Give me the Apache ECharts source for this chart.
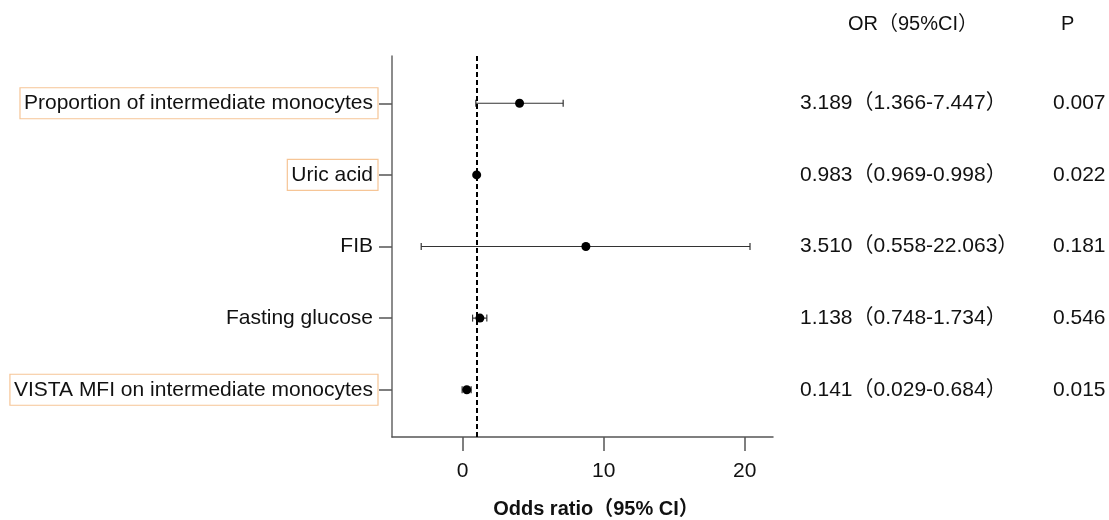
<!DOCTYPE html>
<html>
<head>
<meta charset="utf-8">
<style>html,body{margin:0;padding:0;background:#fff}#c{width:1109px;height:520px}</style>
<script src="https://cdn.jsdelivr.net/npm/echarts@6/dist/echarts.min.js"></script>
</head>
<body>
<div id="c"></div>
<script>
// ---- data ----
const variables = ['Proportion of intermediate monocytes', 'Uric acid', 'FIB', 'Fasting glucose', 'VISTA MFI on intermediate monocytes'];
const highlighted = [true, true, false, false, true];
const oddsRatio = [4.04, 1.0, 8.74, 1.23, 0.3];      // plotted point
const ciLow = [0.94, 0.97, -2.93, 0.71, -0.03];
const ciHigh = [7.13, 1.0, 20.37, 1.72, 0.61];
const orText = ['3.189（1.366-7.447）', '0.983（0.969-0.998）', '3.510（0.558-22.063）', '1.138（0.748-1.734）', '0.141（0.029-0.684）'];
const pText = ['0.007', '0.022', '0.181', '0.546', '0.015'];
const headers = ['OR（95%CI）', 'P'];
const xTitle = 'Odds ratio（95% CI）';
const xTicks = [0, 10, 20];
const refLine = 1;
const rows = [1, 2, 3, 4, 5];

const FONT = '"Liberation Sans", Arial, "Noto Sans CJK SC", sans-serif';
const chart = echarts.init(document.getElementById('c'));

const yBase = { type: 'value', inverse: true, min: 0.34, max: 5.66, splitLine: { show: false } };

const option = {
  animation: false,
  textStyle: { fontFamily: FONT },
  grid: { left: 392, right: 336, top: 56, bottom: 83, containLabel: false, outerBoundsMode: 'none' },
  xAxis: {
    type: 'value', min: -5, max: 22, interval: 10,
    axisLine: { show: true, onZero: false, lineStyle: { color: '#555', width: 1.5 } },
    axisTick: { show: true, length: 14, lineStyle: { color: '#555', width: 1.5 }, customValues: xTicks },
    axisLabel: { customValues: xTicks, fontSize: 21, color: '#111', margin: 24, fontFamily: FONT },
    splitLine: { show: false },
    name: xTitle, nameLocation: 'middle', nameGap: 62,
    nameTextStyle: { fontSize: 20, fontWeight: 'bold', color: '#111', fontFamily: FONT, padding: [0, 0, 0, 27] }
  },
  yAxis: [
    Object.assign({}, yBase, {
      position: 'left',
      axisLine: { show: true, onZero: false, lineStyle: { color: '#666', width: 1.5 } },
      axisTick: { show: true, length: 13, customValues: rows, lineStyle: { color: '#555', width: 1.5 } },
      axisLabel: {
        customValues: rows, margin: 14,
        formatter: v => { const i = Math.round(v) - 1; return (highlighted[i] ? '{b|' : '{n|') + variables[i] + '}'; },
        rich: {
          b: { fontSize: 21, color: '#111', fontFamily: FONT, borderColor: '#f6c596', borderWidth: 1.2, padding: [5, 5, 5, 4] },
          n: { fontSize: 21, color: '#111', fontFamily: FONT, padding: [5, 5, 5, 4] }
        }
      }
    }),
    Object.assign({}, yBase, {
      position: 'right', offset: 0,
      axisLine: { show: false, onZero: false }, axisTick: { show: false },
      axisLabel: { customValues: rows, margin: 27, align: 'left', fontSize: 21, color: '#111', fontFamily: FONT,
        formatter: v => orText[Math.round(v) - 1] }
    }),
    Object.assign({}, yBase, {
      position: 'right', offset: 253,
      axisLine: { show: false, onZero: false }, axisTick: { show: false },
      axisLabel: { customValues: rows, margin: 27, align: 'left', fontSize: 21, color: '#111', fontFamily: FONT,
        formatter: v => pText[Math.round(v) - 1] }
    })
  ],
  graphic: [
    { type: 'text', left: 848, top: 14, style: { text: headers[0], fontSize: 20, fill: '#111', fontFamily: FONT } },
    { type: 'text', left: 1061, top: 14, style: { text: headers[1], fontSize: 20, fill: '#111', fontFamily: FONT } }
  ],
  series: [
    {
      type: 'custom',
      data: rows.map((r, i) => [ciLow[i], ciHigh[i], r]),
      encode: { x: [0, 1], y: 2 },
      renderItem: (params, api) => {
        const y = api.value(2);
        const a = api.coord([api.value(0), y]);
        const b = api.coord([api.value(1), y]);
        const h = 3.5;
        const st = { stroke: '#333', lineWidth: 1.2 };
        return { type: 'group', children: [
          { type: 'line', shape: { x1: a[0], y1: a[1], x2: b[0], y2: b[1] }, style: st },
          { type: 'line', shape: { x1: a[0], y1: a[1] - h, x2: a[0], y2: a[1] + h }, style: st },
          { type: 'line', shape: { x1: b[0], y1: b[1] - h, x2: b[0], y2: b[1] + h }, style: st }
        ] };
      },
      z: 2
    },
    {
      type: 'scatter',
      data: rows.map((r, i) => [oddsRatio[i], r]),
      symbol: 'circle', symbolSize: 9,
      itemStyle: { color: '#000', opacity: 1 },
      z: 3,
      markLine: {
        silent: true, symbol: 'none', label: { show: false },
        lineStyle: { color: '#000', type: [5, 3], width: 2, opacity: 1 },
        data: [{ xAxis: refLine }]
      }
    }
  ]
};
chart.setOption(option);
</script>
</body>
</html>
